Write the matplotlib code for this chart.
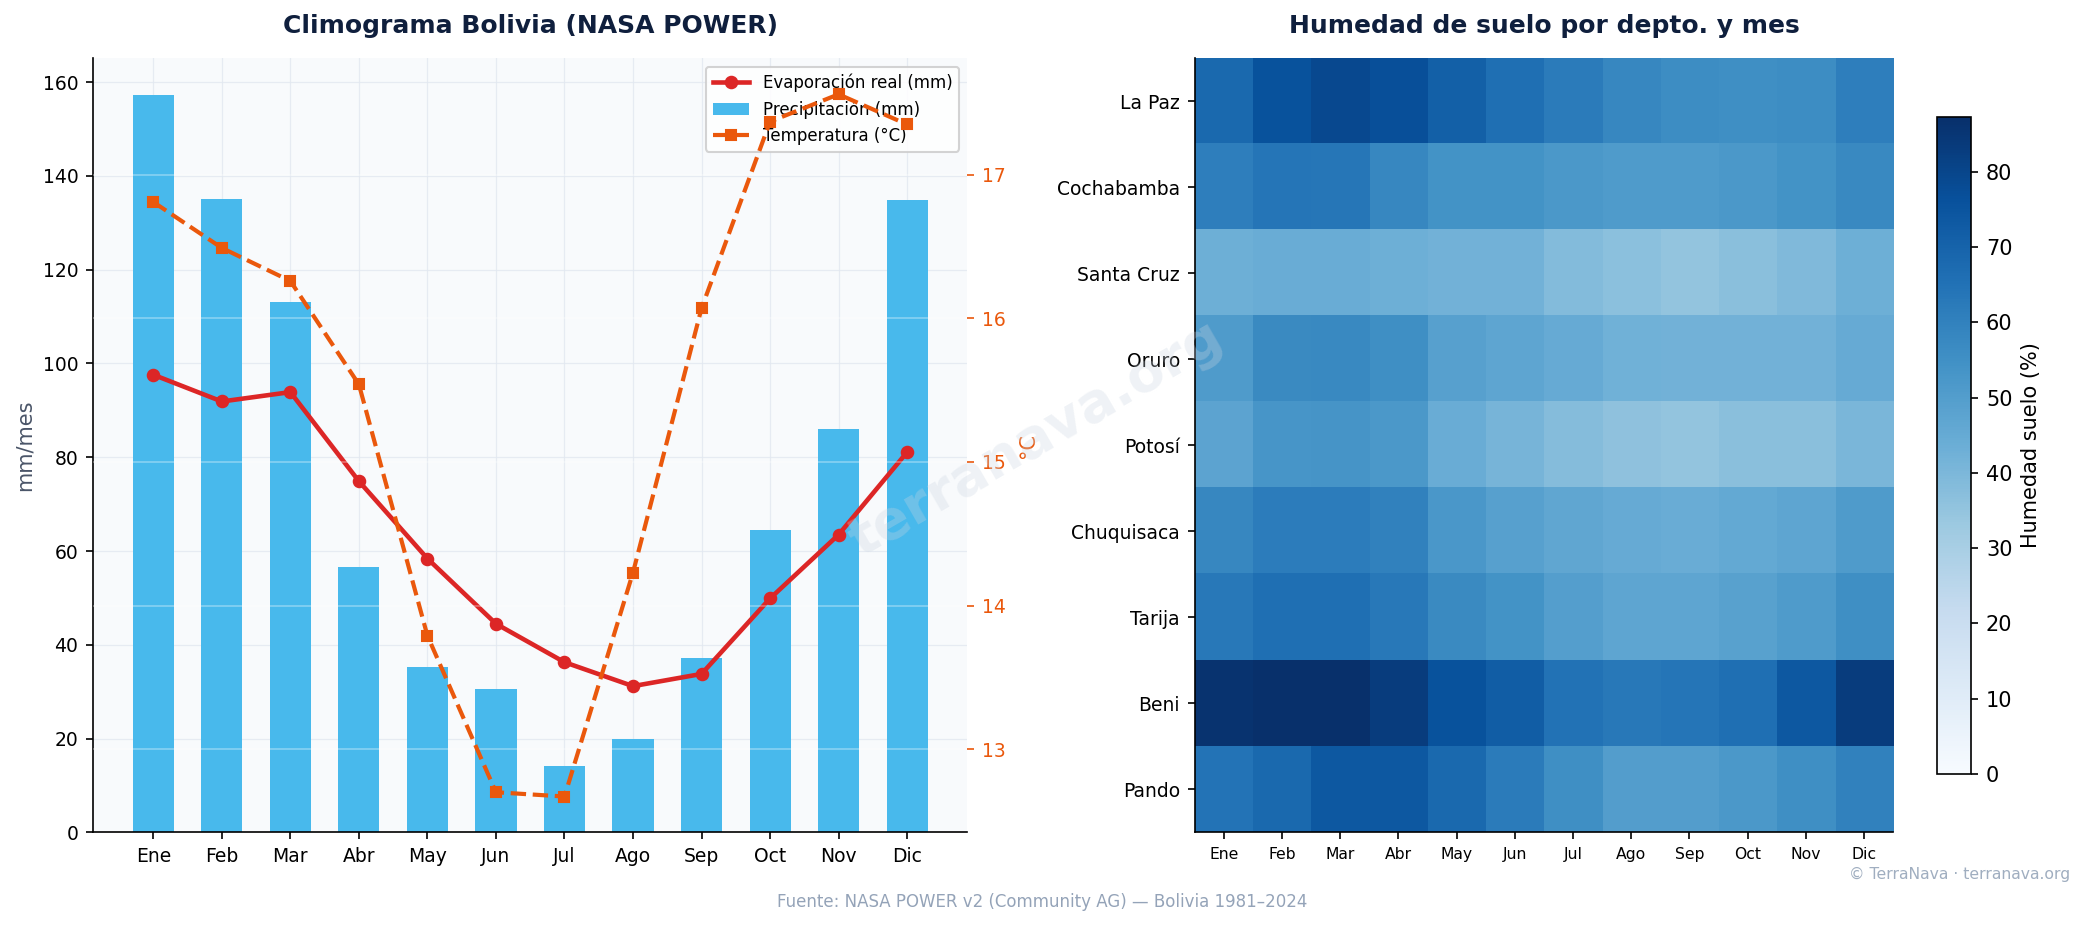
import matplotlib
matplotlib.use("Agg")
import matplotlib.pyplot as plt
import numpy as np

# --- data ---------------------------------------------------------------
meses = ["Ene", "Feb", "Mar", "Abr", "May", "Jun",
         "Jul", "Ago", "Sep", "Oct", "Nov", "Dic"]
precipitacion = [157.2, 135.0, 113.2, 56.7, 35.2, 30.6,
                 14.2, 19.9, 37.2, 64.4, 86.0, 134.8]
evaporacion = [97.6, 91.9, 93.9, 74.9, 58.4, 44.5,
               36.3, 31.2, 33.8, 49.9, 63.5, 81.1]
temperatura = [16.81, 16.49, 16.26, 15.54, 13.79, 12.70,
               12.67, 14.23, 16.07, 17.37, 17.56, 17.35]

deptos = ["La Paz", "Cochabamba", "Santa Cruz", "Oruro", "Potosí",
          "Chuquisaca", "Tarija", "Beni", "Pando"]
hum_la_paz = [68, 76, 79, 77, 71, 66, 62, 58, 56, 55.5, 56, 61]
hum_cochabamba = [61, 64, 63.5, 58, 54, 54, 52, 51, 51, 52, 54, 57.5]
hum_santa_cruz = [43, 44, 44, 43, 42, 42, 38.5, 36.5, 35, 37, 39, 43]
hum_oruro = [51, 57, 57.5, 55.5, 49, 47, 45, 42.5, 42, 42, 42, 45]
hum_potosi = [47.5, 53, 53.5, 52, 44, 41, 38, 36, 35, 37, 37, 40.5]
hum_chuquisaca = [58, 61.5, 61.5, 60, 52.5, 49, 46.5, 45, 44, 45.5, 47, 51]
hum_tarija = [63, 66, 66, 63, 57, 54, 49.5, 47, 47, 48.5, 51, 55.5]
hum_beni = [86, 87.3, 87.2, 83, 76, 72, 65, 63, 64, 66, 74, 83]
hum_pando = [64.5, 68, 74, 74, 68, 62, 55.5, 50, 50, 52, 55.5, 60]

humedad = np.array([hum_la_paz, hum_cochabamba, hum_santa_cruz, hum_oruro,
                    hum_potosi, hum_chuquisaca, hum_tarija, hum_beni,
                    hum_pando])

# --- style --------------------------------------------------------------
C_BAR = "#48b9ec"
C_EVAP = "#dc2626"
C_TEMP = "#ea580c"
C_TITLE = "#0f1f3d"
C_MUTED = "#94a3b8"

fig = plt.figure(figsize=(13.9, 6.18), dpi=150)

# --- climograma ---------------------------------------------------------
ax = fig.add_axes([0.0446, 0.102, 0.4194, 0.835])
ax.set_facecolor("#f8fafc")
x = np.arange(len(meses))
bars = ax.bar(x, precipitacion, width=0.6, color=C_BAR,
              label="Precipitación (mm)", zorder=2)
l_evap, = ax.plot(x, evaporacion, color=C_EVAP, lw=2.2, marker="o",
                  ms=5.5, label="Evaporación real (mm)", zorder=3)
ax.set_ylim(0, max(precipitacion) * 1.05)
ax.set_xticks(x)
ax.set_xticklabels(meses, fontsize=9)
ax.tick_params(axis="y", labelsize=9)
ax.set_ylabel("mm/mes", color="#4a5568", fontsize=10)
ax.grid(True, color="#e2e8f0", lw=0.6, alpha=0.8, zorder=0)
ax.set_axisbelow(True)
for s in ["top", "right"]:
    ax.spines[s].set_visible(False)
ax.set_title("Climograma Bolivia (NASA POWER)", fontsize=12,
             fontweight="bold", color=C_TITLE, pad=12)

ax2 = ax.twinx()
l_temp, = ax2.plot(x, temperatura, color=C_TEMP, lw=2, ls="--",
                   marker="s", ms=4.5, label="Temperatura (°C)")
ax2.set_ylim(min(temperatura) - 0.25, max(temperatura) + 0.25)
ax2.set_yticks([13, 14, 15, 16, 17])
ax2.tick_params(axis="y", colors=C_TEMP, labelsize=9)
ax2.set_ylabel("°C", color=C_TEMP, fontsize=10, labelpad=6)
ax2.grid(True, axis="y", color="#ffffff", lw=0.8, alpha=0.35)
for s in ["top", "right", "left", "bottom"]:
    ax2.spines[s].set_visible(False)

ax.legend([l_evap, bars, l_temp],
          ["Evaporación real (mm)", "Precipitación (mm)", "Temperatura (°C)"],
          loc="upper right", fontsize=8, framealpha=0.85,
          borderpad=0.4, handlelength=2.2)

# --- heatmap ------------------------------------------------------------
axh = fig.add_axes([0.573, 0.102, 0.335, 0.835])
im = axh.imshow(humedad, cmap="Blues", vmin=0, vmax=humedad.max(),
                aspect="auto", interpolation="nearest")
axh.set_xticks(np.arange(len(meses)))
axh.set_xticklabels(meses, fontsize=7.5)
axh.set_yticks(np.arange(len(deptos)))
axh.set_yticklabels(deptos, fontsize=9)
for s in ["top", "right"]:
    axh.spines[s].set_visible(False)
axh.set_title("Humedad de suelo por depto. y mes", fontsize=12,
              fontweight="bold", color=C_TITLE, pad=12)

cax = fig.add_axes([0.929, 0.165, 0.0165, 0.709])
cb = fig.colorbar(im, cax=cax)
cb.set_label("Humedad suelo (%)", fontsize=10)
cb.ax.tick_params(labelsize=10)

# --- texts --------------------------------------------------------------
fig.text(0.497, 0.527, "terranava.org", fontsize=26, fontweight="bold",
         color="#cbd5e1", alpha=0.3, rotation=30, ha="center", va="center")
fig.text(0.5, 0.027, "Fuente: NASA POWER v2 (Community AG) — Bolivia 1981–2024",
         ha="center", va="center", fontsize=8, color=C_MUTED)
fig.text(0.993, 0.057, "© TerraNava · terranava.org", ha="right",
         va="center", fontsize=7.5, color="#a0aec0")

fig.savefig("out.png", dpi=150)
